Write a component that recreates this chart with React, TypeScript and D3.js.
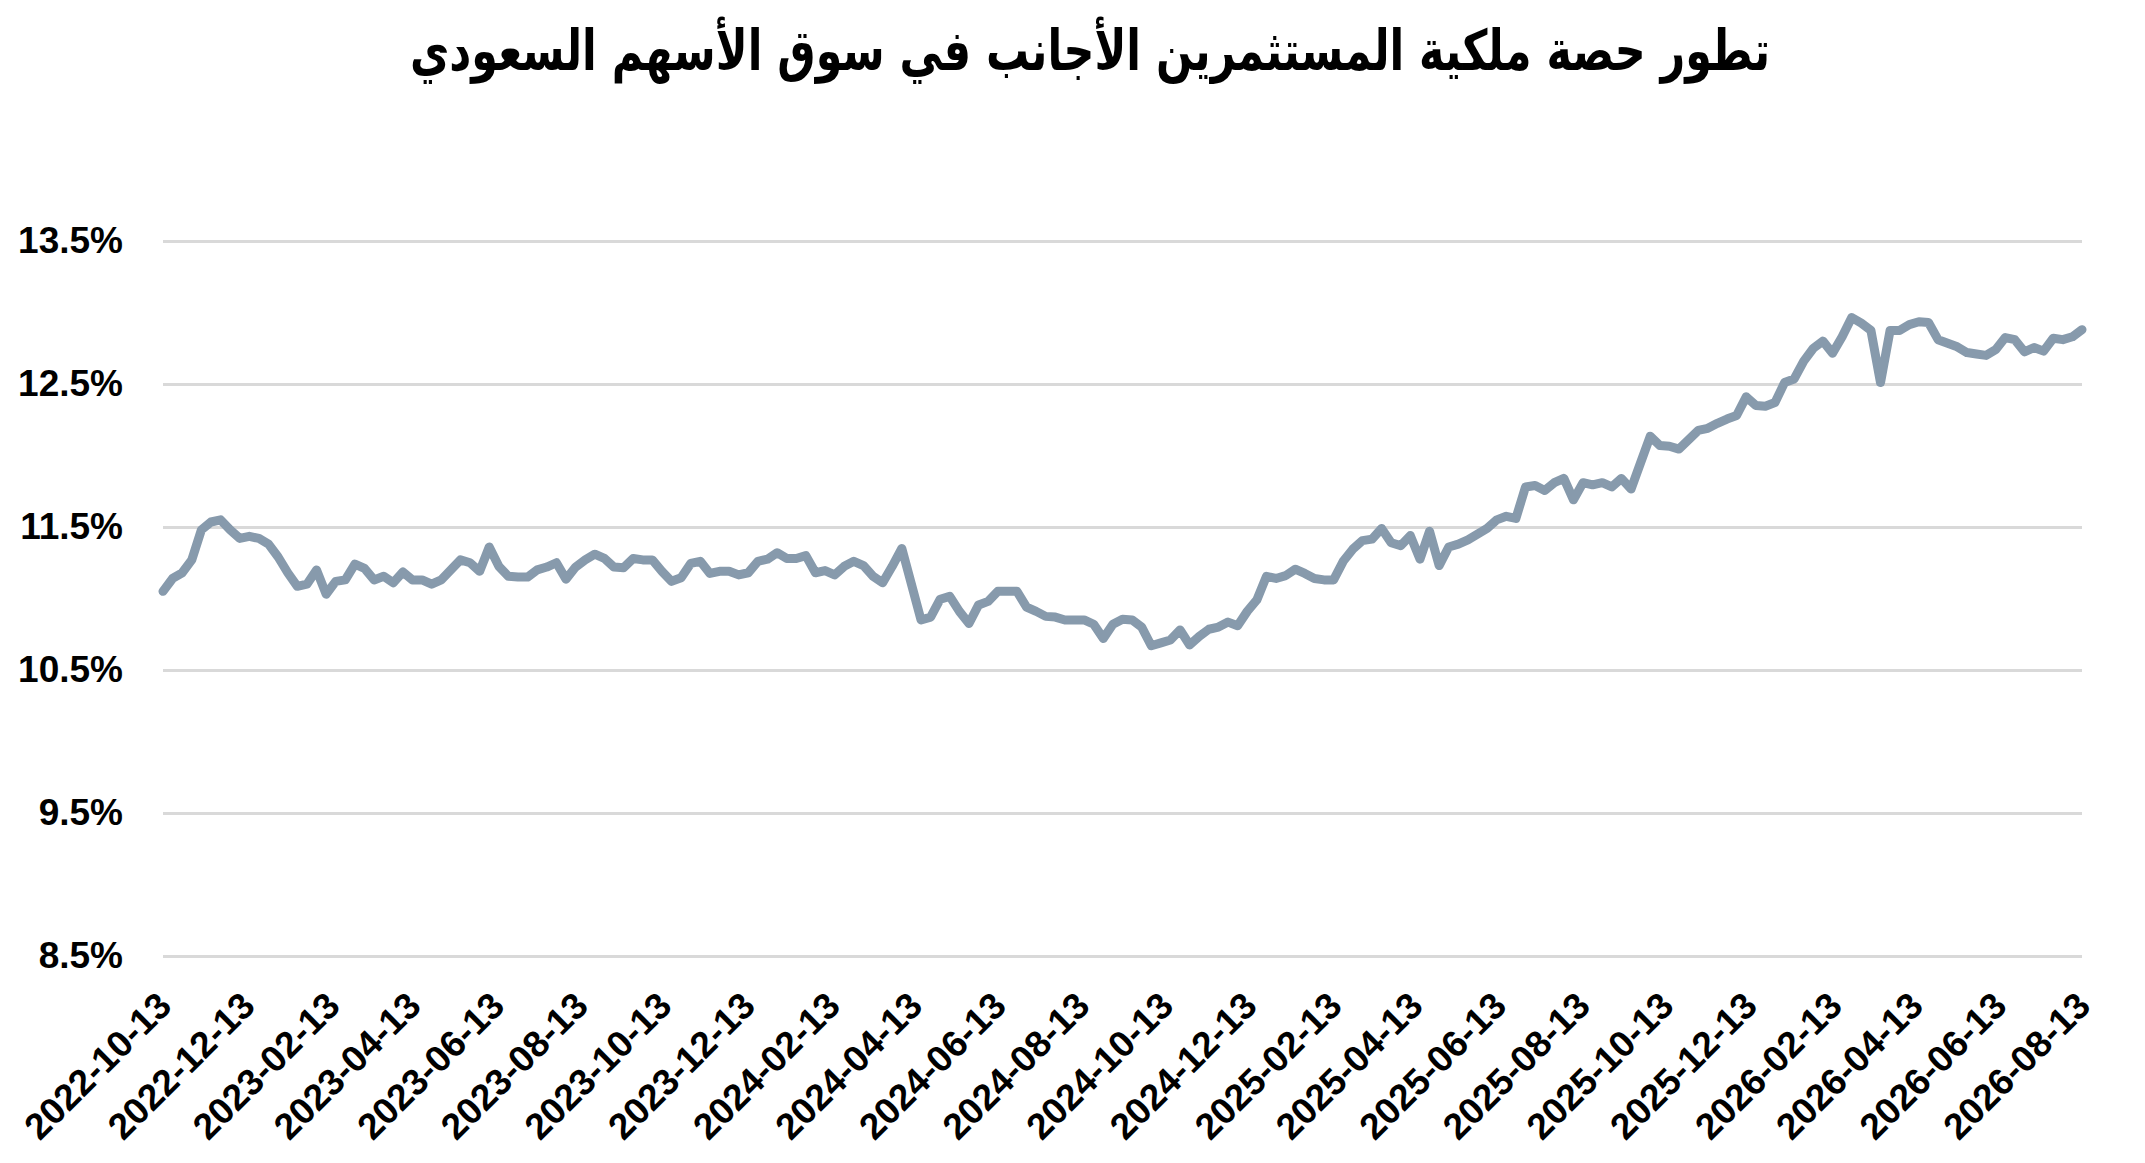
import { useEffect, useRef } from "react";
import * as d3 from "d3";

const TITLE = "تطور حصة ملكية المستثمرين الأجانب في سوق الأسهم السعودي";

const START_DATE = "2022-10-13";
const END_DATE = "2026-08-13";

const TICK_LABELS = [
	"2022-10-13", "2022-12-13", "2023-02-13", "2023-04-13", "2023-06-13", "2023-08-13",
	"2023-10-13", "2023-12-13", "2024-02-13", "2024-04-13", "2024-06-13", "2024-08-13",
	"2024-10-13", "2024-12-13", "2025-02-13", "2025-04-13", "2025-06-13", "2025-08-13",
	"2025-10-13", "2025-12-13", "2026-02-13", "2026-04-13", "2026-06-13", "2026-08-13",
];

const Y_TICKS = [8.5, 9.5, 10.5, 11.5, 12.5, 13.5];

// weekly foreign ownership share (%), one value per week from START_DATE
const SHARE = [
	11.05, 11.14, 11.18, 11.27, 11.48, 11.535, 11.55, 11.48, 11.42, 11.435,
	11.42, 11.38, 11.29, 11.18, 11.085, 11.1, 11.2, 11.03, 11.12, 11.13,
	11.24, 11.21, 11.13, 11.155, 11.11, 11.185, 11.13, 11.13, 11.1, 11.13,
	11.2, 11.27, 11.25, 11.19, 11.36, 11.225, 11.155, 11.15, 11.15, 11.2,
	11.22, 11.25, 11.135, 11.22, 11.27, 11.31, 11.28, 11.22, 11.215, 11.28,
	11.27, 11.27, 11.19, 11.12, 11.145, 11.245, 11.26, 11.175, 11.19, 11.19,
	11.165, 11.18, 11.26, 11.275, 11.32, 11.28, 11.28, 11.3, 11.18, 11.195,
	11.165, 11.225, 11.26, 11.23, 11.155, 11.11, 11.225, 11.35, 11.1, 10.85,
	10.87, 10.995, 11.015, 10.91, 10.825, 10.955, 10.98, 11.05, 11.05, 11.05,
	10.94, 10.91, 10.875, 10.87, 10.85, 10.85, 10.85, 10.82, 10.72, 10.82,
	10.855, 10.85, 10.8, 10.67, 10.69, 10.71, 10.78, 10.675, 10.735, 10.785,
	10.8, 10.835, 10.81, 10.91, 10.99, 11.155, 11.14, 11.16, 11.205, 11.175,
	11.14, 11.13, 11.13, 11.26, 11.345, 11.405, 11.415, 11.49, 11.39, 11.37,
	11.44, 11.275, 11.47, 11.23, 11.36, 11.38, 11.41, 11.45, 11.49, 11.55,
	11.575, 11.56, 11.78, 11.79, 11.755, 11.81, 11.84, 11.69, 11.81, 11.795,
	11.81, 11.78, 11.84, 11.765, 11.95, 12.135, 12.07, 12.065, 12.045, 12.11,
	12.175, 12.19, 12.225, 12.255, 12.28, 12.41, 12.35, 12.345, 12.37, 12.51,
	12.535, 12.66, 12.75, 12.8, 12.715, 12.83, 12.965, 12.925, 12.875, 12.51,
	12.875, 12.875, 12.915, 12.935, 12.93, 12.81, 12.785, 12.76, 12.72, 12.71,
	12.7, 12.74, 12.825, 12.81, 12.725, 12.755, 12.73, 12.82, 12.81, 12.83,
	12.88,
];

const WIDTH = 2145;
const HEIGHT = 1163;
const FONT = "'Liberation Sans', Arial, sans-serif";

export default function App() {
	const svgRef = useRef<SVGSVGElement>(null);

	useEffect(() => {
		if (!svgRef.current) {
			return;
		}

		const svg = d3.select(svgRef.current);
		svg.selectAll("*").remove();

		const parse = d3.utcParse("%Y-%m-%d");
		const start = parse(START_DATE)!;
		const end = parse(END_DATE)!;
		const data = SHARE.map((value, i) => ({ date: d3.utcDay.offset(start, i * 7), value }));

		const margin = { top: 241, right: 63, bottom: 207, left: 163 };
		const xScale = d3.scaleUtc().domain([start, end]).range([margin.left, WIDTH - margin.right]);
		const yScale = d3.scaleLinear().domain([8.5, 13.5]).range([HEIGHT - margin.bottom, margin.top]);

		svg
			.append("text")
			.attr("x", 1090)
			.attr("y", 70)
			.attr("text-anchor", "middle")
			.attr("direction", "rtl")
			.attr("font-family", "'DejaVu Sans Condensed', 'DejaVu Sans', sans-serif")
			.attr("font-weight", 700)
			.attr("font-size", 56)
			.attr("textLength", 1360)
			.attr("lengthAdjust", "spacingAndGlyphs")
			.attr("fill", "#000")
			.text(TITLE);

		const yAxis = svg
			.append("g")
			.attr("transform", `translate(${margin.left},0)`)
			.call(
				d3
					.axisLeft(yScale)
					.tickValues(Y_TICKS)
					.tickSize(-(WIDTH - margin.left - margin.right))
					.tickPadding(40)
					.tickFormat((d) => `${Number(d).toFixed(1)}%`)
			);
		yAxis.select(".domain").remove();
		yAxis.selectAll(".tick line").attr("stroke", "#d9d9d9").attr("stroke-width", 3);
		yAxis
			.selectAll(".tick text")
			.attr("fill", "#000")
			.attr("font-family", FONT)
			.attr("font-weight", 700)
			.attr("font-size", 37);

		const tickDates = TICK_LABELS.map((label) => parse(label)!);
		const xAxis = svg
			.append("g")
			.attr("transform", `translate(0,${HEIGHT - margin.bottom})`)
			.call(
				d3
					.axisBottom(xScale)
					.tickValues(tickDates)
					.tickSize(0)
					.tickFormat(d3.utcFormat("%Y-%m-%d") as (d: Date | d3.NumberValue) => string)
			);
		xAxis.select(".domain").remove();
		xAxis
			.selectAll(".tick text")
			.attr("fill", "#000")
			.attr("font-family", FONT)
			.attr("font-weight", 700)
			.attr("font-size", 37)
			.attr("text-anchor", "end")
			.attr("dy", null)
			.attr("y", null)
			.attr("transform", "translate(10,52) rotate(-45)");

		const line = d3
			.line<{ date: Date; value: number }>()
			.x((d) => xScale(d.date))
			.y((d) => yScale(d.value));

		svg
			.append("path")
			.datum(data)
			.attr("fill", "none")
			.attr("stroke", "#879aac")
			.attr("stroke-width", 9)
			.attr("stroke-linejoin", "round")
			.attr("stroke-linecap", "round")
			.attr("d", line);
	}, []);

	return (
		<div style={{ position: "absolute", left: 0, top: 0 }}>
			<svg ref={svgRef} width={WIDTH} height={HEIGHT} style={{ display: "block", background: "#fff" }} />
		</div>
	);
}
